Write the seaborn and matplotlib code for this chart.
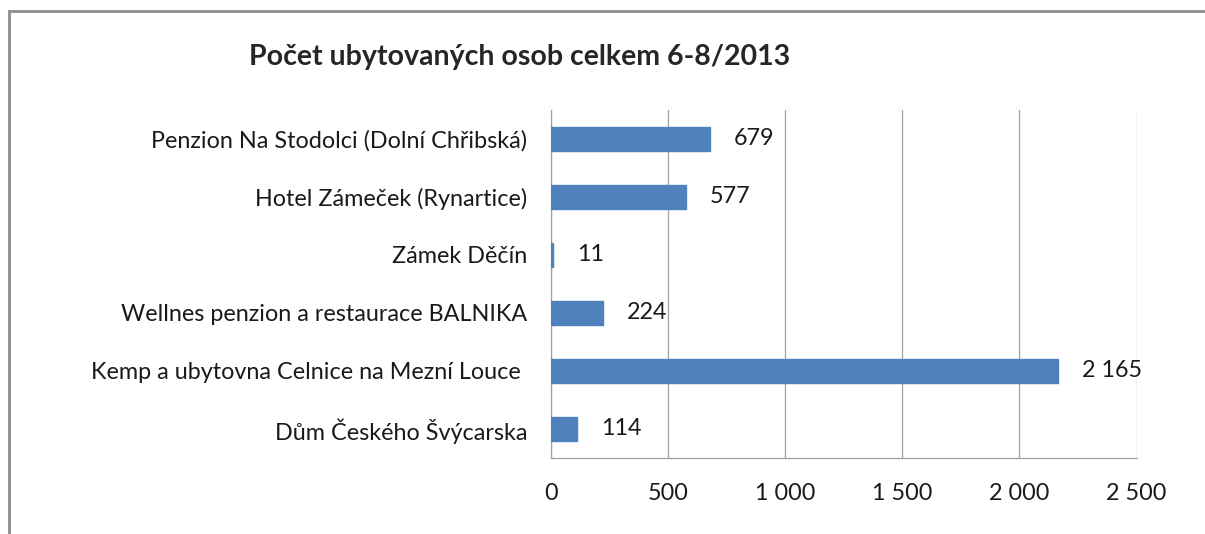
import numpy as np
import pandas as pd
import seaborn as sns
import matplotlib.pyplot as plt
from matplotlib.patches import Rectangle

categories = ["Penzion Na Stodolci (Dolní Chřibská)",
              "Hotel Zámeček (Rynartice)",
              "Zámek Děčín",
              "Wellnes penzion a restaurace BALNIKA",
              "Kemp a ubytovna Celnice na Mezní Louce ",
              "Dům Českého Švýcarska"]
values = [679, 577, 11, 224, 2165, 114]
x_ticks = [0, 500, 1000, 1500, 2000, 2500]

df = pd.DataFrame({'cat': categories, 'val': values})

sns.set_style("white")
plt.rcParams['font.family'] = ['Lato', 'DejaVu Sans']

def fmt(v):
    return f"{v:,}".replace(",", " ")

fig = plt.figure(figsize=(12.05, 5.34), dpi=100)
ax = fig.add_axes([0.457, 0.1423, 0.4863, 0.652])

sns.barplot(data=df, x='val', y='cat', orient='h', color='#4F81BD',
            width=0.41, saturation=1, edgecolor='#4F81BD', linewidth=1,
            ax=ax, zorder=3)

ax.bar_label(ax.containers[0], labels=[fmt(v) for v in values],
             padding=17, fontsize=16.8, color='#1a1a1a')

ax.set_xlim(0, 2500)
ax.set_xticks(x_ticks)
ax.set_xticklabels([fmt(v) for v in x_ticks], fontsize=16.8)
ax.set_ylim(5.5, -0.5)
ax.set_yticks(np.arange(len(categories)))
ax.set_yticklabels(categories, fontsize=16.8)
ax.set_xlabel('')
ax.set_ylabel('')

ax.grid(axis='x', color='#a0a0a0', linewidth=0.9, zorder=0)
for s in ['top', 'right']:
    ax.spines[s].set_visible(False)
for s in ['left', 'bottom']:
    ax.spines[s].set_color('#a0a0a0')
    ax.spines[s].set_linewidth(0.9)

# ticks: y ticks at band borders, x ticks hanging down
ax.tick_params(axis='y', length=0, pad=17, colors='#1a1a1a')
ax.set_yticks(np.arange(-0.5, len(categories), 1), minor=True)
ax.tick_params(axis='y', which='minor', length=6, color='#a0a0a0', direction='out')
ax.tick_params(axis='x', length=6, color='#a0a0a0', labelcolor='#1a1a1a',
               direction='out', pad=12)

fig.text(0.4315, 0.893, "Počet ubytovaných osob celkem 6-8/2013",
         ha='center', va='center', fontsize=20.5, fontweight='bold')

fig.patches.append(Rectangle((9 / 1205, -0.1), 1.2, 1 - 11 / 534 + 0.1,
                             transform=fig.transFigure, fill=False,
                             edgecolor='#8c8c8c', linewidth=2))

fig.savefig('out.png', dpi=100)
